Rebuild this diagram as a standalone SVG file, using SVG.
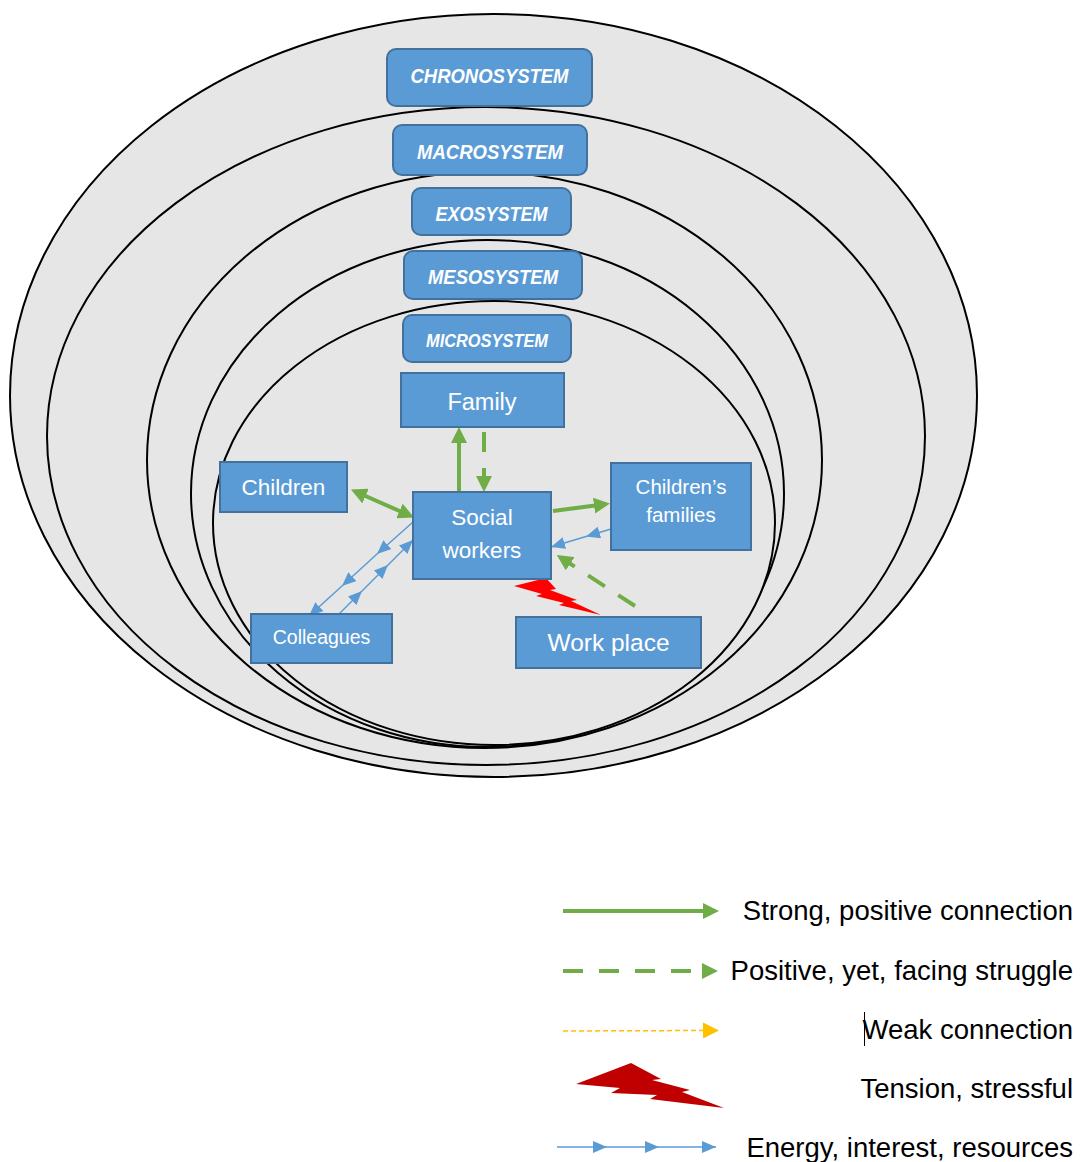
<svg xmlns="http://www.w3.org/2000/svg" width="1080" height="1162" viewBox="0 0 1080 1162">
  <style>
    .ring { fill: #e6e6e6; stroke: #000; stroke-width: 2; }
    .sys rect { fill: #5b9bd5; stroke: #41719c; stroke-width: 2; }
    .sys text { font-family: "Liberation Sans", Arial, sans-serif; font-weight: bold; font-style: italic; fill: #fff; text-anchor: middle; }
    .node rect { fill: #5b9bd5; stroke: #41719c; stroke-width: 2; }
    .node text { font-family: "Liberation Sans", Arial, sans-serif; fill: #fff; text-anchor: middle; }
    .strong { stroke: #70ad47; stroke-width: 4; fill: none; }
    .struggle { stroke: #70ad47; stroke-width: 4; fill: none; stroke-dasharray: 20 16; }
    .weak { stroke: #ffc000; stroke-width: 1.5; fill: none; stroke-dasharray: 5 3; }
    .energy { stroke: #5b9bd5; stroke-width: 1.5; fill: none; }
    .legend text { font-family: "Liberation Sans", Arial, sans-serif; font-size: 27.5px; fill: #000; text-anchor: end; }
  </style>
  <defs>
    <marker id="greenHead" markerUnits="userSpaceOnUse" markerWidth="16" markerHeight="16" viewBox="0 0 16 16" refX="5" refY="8" orient="auto-start-reverse">
      <path d="M0,0 L16,8 L0,16 z" fill="#70ad47"/>
    </marker>
    <marker id="blueHead" markerUnits="userSpaceOnUse" markerWidth="14" markerHeight="12" viewBox="0 0 14 12" refX="14" refY="6" orient="auto">
      <path d="M0,0 L14,6 L0,12 z" fill="#5b9bd5"/>
    </marker>
    <marker id="yellowHead" markerUnits="userSpaceOnUse" markerWidth="16" markerHeight="16" viewBox="0 0 16 16" refX="3" refY="8" orient="auto">
      <path d="M0,0 L16,8 L0,16 z" fill="#ffc000"/>
    </marker>
  </defs>

  <!-- nested system rings, outermost first -->
  <g id="rings">
    <ellipse class="ring" cx="493.5" cy="395.5" rx="483.5" ry="381.5"/>
    <ellipse class="ring" cx="486" cy="436" rx="439" ry="329"/>
    <ellipse class="ring" cx="484.5" cy="460" rx="337.5" ry="288"/>
    <ellipse class="ring" cx="487.5" cy="493.5" rx="296.5" ry="253.5"/>
    <ellipse class="ring" cx="494" cy="523" rx="281" ry="222"/>
  </g>

  <!-- system labels -->
  <g id="chronosystem" class="sys">
    <rect x="387" y="49" width="205" height="57" rx="9"/>
    <text x="489.5" y="83" font-size="20.5" textLength="158" lengthAdjust="spacingAndGlyphs">CHRONOSYSTEM</text>
  </g>
  <g id="macrosystem" class="sys">
    <rect x="393" y="125" width="194" height="50" rx="9"/>
    <text x="490" y="159" font-size="20.5" textLength="146" lengthAdjust="spacingAndGlyphs">MACROSYSTEM</text>
  </g>
  <g id="exosystem" class="sys">
    <rect x="412" y="188" width="159" height="47" rx="9"/>
    <text x="491.5" y="221" font-size="20.5" textLength="112" lengthAdjust="spacingAndGlyphs">EXOSYSTEM</text>
  </g>
  <g id="mesosystem" class="sys">
    <rect x="404" y="251" width="178" height="48" rx="9"/>
    <text x="493" y="284" font-size="20.5" textLength="130" lengthAdjust="spacingAndGlyphs">MESOSYSTEM</text>
  </g>
  <g id="microsystem" class="sys">
    <rect x="403" y="315" width="168" height="47" rx="9"/>
    <text x="487" y="347" font-size="18" textLength="122" lengthAdjust="spacingAndGlyphs">MICROSYSTEM</text>
  </g>

  <!-- connectors -->
  <g id="connectors">
    <!-- social workers -> family (strong) -->
    <path class="strong" d="M459,493 L459,438" marker-end="url(#greenHead)"/>
    <!-- family -> social workers (struggle) -->
    <path class="struggle" d="M484,432 L484,481" marker-end="url(#greenHead)"/>
    <!-- children <-> social workers (strong, both ways) -->
    <path class="strong" d="M361,494 L404,513" marker-start="url(#greenHead)" marker-end="url(#greenHead)"/>
    <!-- social workers -> children's families (strong) -->
    <path class="strong" d="M553,511 L599,505" marker-end="url(#greenHead)"/>
    <!-- work place -> social workers (struggle) -->
    <path class="struggle" d="M635,606 L566,561" marker-end="url(#greenHead)"/>
    <!-- children's families -> social workers (energy) -->
    <path class="energy" d="M611,529 L586,536.5 L551,547" marker-mid="url(#blueHead)" marker-end="url(#blueHead)"/>
    <!-- social workers -> colleagues (energy) -->
    <path class="energy" d="M413,522 L377,554 L342,586 L309,616" marker-mid="url(#blueHead)" marker-end="url(#blueHead)"/>
    <!-- colleagues -> social workers (energy) -->
    <path class="energy" d="M338,615 L362,591 L388,565 L413,540" marker-mid="url(#blueHead)" marker-end="url(#blueHead)"/>
    <!-- work place / social workers tension -->
    <polygon fill="#ff0000" points="514,586 546,578 556,589 550,590 577,600 571,601 601,615 559,605 564,603 536,596 542,594"/>
  </g>

  <!-- microsystem members -->
  <g id="family" class="node">
    <rect x="401" y="373" width="163" height="54"/>
    <text x="482" y="410" font-size="23.5">Family</text>
  </g>
  <g id="children" class="node">
    <rect x="220" y="462" width="127" height="50"/>
    <text x="283.5" y="495" font-size="22.5">Children</text>
  </g>
  <g id="social-workers" class="node">
    <rect x="413" y="492" width="138" height="87"/>
    <text x="482" y="525" font-size="22.5">Social</text>
    <text x="482" y="558" font-size="22.5">workers</text>
  </g>
  <g id="childrens-families" class="node">
    <rect x="611" y="463" width="140" height="87"/>
    <text x="681" y="494" font-size="20.5">Children’s</text>
    <text x="681" y="522" font-size="20.5">families</text>
  </g>
  <g id="colleagues" class="node">
    <rect x="251" y="614" width="141" height="49"/>
    <text x="321.5" y="644" font-size="19.5">Colleagues</text>
  </g>
  <g id="work-place" class="node">
    <rect x="516" y="617" width="185" height="51"/>
    <text x="608.5" y="651" font-size="24.5">Work place</text>
  </g>

  <!-- legend -->
  <g id="legend" class="legend">
    <path class="strong" d="M563,911 L708,911" marker-end="url(#greenHead)"/>
    <text x="1073" y="920">Strong, positive connection</text>

    <path class="struggle" d="M563,971 L707,971" marker-end="url(#greenHead)"/>
    <text x="1073" y="980">Positive, yet, facing struggle</text>

    <path class="weak" d="M563,1031 L706,1030.5" marker-end="url(#yellowHead)"/>
    <line x1="864.5" y1="1012" x2="864.5" y2="1046" stroke="#000" stroke-width="1"/>
    <text x="1073" y="1039">Weak connection</text>

    <polygon fill="#c00000" points="576,1084 631,1063 661,1079 652,1080 690,1090 682,1092 724,1108 650,1099 657,1095 611,1093 620,1088"/>
    <text x="1073" y="1098">Tension, stressful</text>

    <path class="energy" d="M557,1147 L607,1147 L659,1147 L716,1147" marker-mid="url(#blueHead)" marker-end="url(#blueHead)"/>
    <text x="1073" y="1157">Energy, interest, resources</text>
  </g>
</svg>
